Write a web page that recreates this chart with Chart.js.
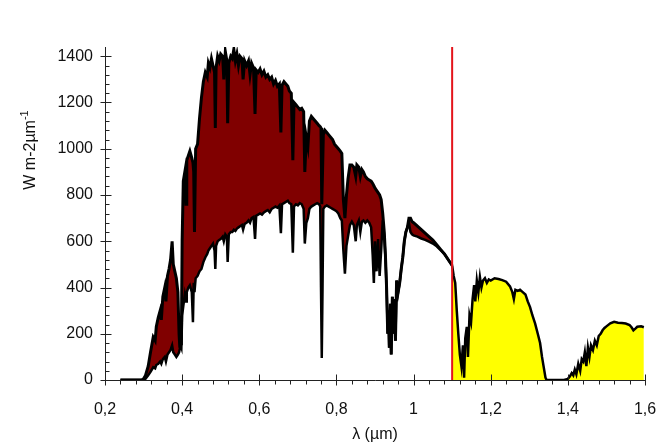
<!DOCTYPE html>
<html>
<head>
<meta charset="utf-8">
<script src="https://cdn.jsdelivr.net/npm/chart.js@4/dist/chart.umd.min.js"></script>
<style>
  html, body { margin: 0; padding: 0; background: #fff; }
</style>
</head>
<body>
<canvas id="spectre" width="657" height="447"></canvas>
<script>
// longueurs d'onde (µm), partie visible / proche IR jusqu'a la coupure
const wl = [0.24, 0.295, 0.300, 0.305, 0.312, 0.318, 0.325, 0.330, 0.333, 0.338, 0.343, 0.346, 0.350, 0.355, 0.358,
  0.362, 0.366, 0.370, 0.374, 0.377, 0.381, 0.385, 0.389, 0.392, 0.394, 0.396, 0.398, 0.400, 0.403, 0.407,
  0.410, 0.412, 0.416, 0.420, 0.425, 0.428, 0.430, 0.432, 0.435, 0.440, 0.445, 0.450, 0.455, 0.460, 0.465,
  0.468, 0.472, 0.476, 0.480, 0.484, 0.486, 0.488, 0.492, 0.496, 0.500, 0.505, 0.508, 0.512, 0.516, 0.518,
  0.521, 0.526, 0.530, 0.534, 0.538, 0.542, 0.546, 0.550, 0.555, 0.558, 0.562, 0.567, 0.572, 0.576, 0.580,
  0.585, 0.589, 0.592, 0.597, 0.602, 0.607, 0.612, 0.617, 0.622, 0.627, 0.632, 0.637, 0.642, 0.647, 0.652,
  0.656, 0.659, 0.664, 0.669, 0.674, 0.678, 0.683, 0.687, 0.690, 0.695, 0.700, 0.705, 0.710, 0.715, 0.718,
  0.722, 0.726, 0.730, 0.735, 0.740, 0.745, 0.750, 0.755, 0.758, 0.760, 0.762, 0.764, 0.766, 0.770, 0.775,
  0.780, 0.785, 0.790, 0.795, 0.800, 0.805, 0.810, 0.814, 0.818, 0.822, 0.826, 0.830, 0.835, 0.840, 0.845,
  0.850, 0.853, 0.858, 0.862, 0.866, 0.870, 0.875, 0.880, 0.885, 0.890, 0.894, 0.897, 0.900, 0.904, 0.908,
  0.912, 0.916, 0.920, 0.924, 0.927, 0.930, 0.933, 0.935, 0.937, 0.940, 0.942, 0.945, 0.948, 0.951, 0.953,
  0.956, 0.960, 0.964, 0.968, 0.972, 0.976, 0.980, 0.984, 0.988, 0.992, 0.996, 1.000, 1.010, 1.020, 1.030,
  1.040, 1.050, 1.060, 1.070, 1.080, 1.090, 1.100];
// eclairement hors atmosphere (W m-2 µm-1)
const toa = [0, 0, 5, 20, 60, 120, 185, 170, 230, 270, 300, 260, 360, 400, 340,
  450, 480, 520, 600, 500, 470, 440, 380, 200, 140, 250, 150, 600, 860, 900,
  760, 950, 970, 990, 960, 940, 900, 640, 1000, 1020, 1130, 1220, 1290, 1330, 1310,
  1370, 1350, 1390, 1360, 1330, 1090, 1350, 1400, 1380, 1410, 1400, 1300, 1420, 1380, 1110,
  1370, 1400, 1390, 1430, 1380, 1410, 1360, 1400, 1390, 1300, 1380, 1360, 1380, 1320, 1370,
  1350, 1150, 1340, 1330, 1345, 1320, 1335, 1310, 1320, 1300, 1310, 1280, 1295, 1270, 1280,
  1070, 1275, 1290, 1280, 1270, 1250, 1240, 950, 1200, 1190, 1180, 1170, 1175, 1160, 900,
  1050, 1010, 1120, 1140, 1130, 1120, 1110, 1100, 1095, 1090, 760, 900, 1060, 1080, 1070,
  1060, 1050, 1040, 1020, 1010, 1000, 990, 980, 780, 700, 800, 870, 930, 930, 920,
  880, 930, 920, 880, 910, 900, 880, 870, 865, 860, 850, 840, 830, 820, 810,
  800, 780, 720, 640, 540, 400, 200, 300, 140, 330, 110, 360, 200, 350, 170,
  430, 380, 420, 480, 530, 600, 640, 660, 700, 700, 685, 680, 665, 650, 635,
  620, 605, 585, 565, 545, 520, 495];
// eclairement au sol
const sfc = [0, 0, 0, 5, 20, 35, 55, 50, 65, 70, 80, 70, 90, 100, 80,
  110, 120, 130, 150, 120, 110, 100, 110, 120, 120, 150, 140, 280, 320, 370,
  340, 380, 400, 410, 380, 250, 420, 380, 440, 450, 470, 480, 510, 530, 545,
  560, 570, 580, 590, 560, 480, 580, 600, 605, 610, 620, 600, 630, 620, 510,
  630, 640, 640, 650, 645, 655, 660, 665, 670, 650, 675, 680, 690, 680, 700,
  705, 610, 710, 715, 720, 715, 725, 730, 735, 725, 740, 745, 750, 745, 755,
  635, 760, 765, 770, 775, 765, 760, 550, 750, 760, 755, 765, 760, 740, 590,
  680, 700, 740, 750, 755, 760, 765, 760, 750, 400, 95, 400, 740, 750, 755,
  750, 745, 740, 735, 730, 720, 700, 690, 560, 460, 580, 620, 670, 685, 670,
  600, 670, 690, 640, 685, 690, 680, 690, 680, 660, 540, 420, 600, 470, 610,
  450, 560, 690, 620, 530, 400, 200, 300, 140, 330, 110, 360, 200, 350, 170,
  430, 380, 420, 480, 530, 600, 640, 660, 680, 640, 630, 625, 620, 612, 606,
  598, 590, 578, 562, 545, 520, 495];
// au-dela de la coupure (bandes d'absorption de l'eau)
const wlIR = [1.100, 1.104, 1.108, 1.112, 1.116, 1.120, 1.124, 1.128, 1.131, 1.134, 1.138, 1.141, 1.145, 1.149, 1.153,
  1.157, 1.160, 1.164, 1.168, 1.172, 1.176, 1.180, 1.185, 1.190, 1.195, 1.200, 1.210, 1.220, 1.230, 1.240,
  1.250, 1.256, 1.260, 1.264, 1.270, 1.276, 1.283, 1.290, 1.296, 1.302, 1.308, 1.315, 1.322, 1.328, 1.333,
  1.337, 1.342, 1.345, 1.390, 1.400, 1.405, 1.410, 1.414, 1.418, 1.422, 1.427, 1.432, 1.436, 1.440, 1.444,
  1.448, 1.452, 1.456, 1.460, 1.465, 1.470, 1.475, 1.480, 1.485, 1.490, 1.495, 1.500, 1.510, 1.520, 1.530,
  1.540, 1.550, 1.560, 1.565, 1.570, 1.575, 1.580, 1.590, 1.597];
const sfcIR = [495, 450, 420, 300, 200, 110, 60, 150, 10, 180, 230, 100, 280, 250, 350,
  410, 340, 430, 380, 445, 400, 430, 440, 420, 435, 430, 440, 437, 432, 425,
  405, 380, 350, 390, 385, 390, 380, 370, 340, 315, 280, 245, 200, 160, 100,
  60, 10, 0, 0, 5, 15, 30, 20, 45, 25, 70, 40, 90, 80, 120,
  60, 140, 100, 150, 130, 170, 150, 190, 200, 215, 225, 232, 245, 252, 248,
  246, 244, 238, 228, 215, 222, 230, 232, 228];
const cutoff = [1.1];
const xTicks = [0.2, 0.4, 0.6, 0.8, 1.0, 1.2, 1.4, 1.6];
const yTicks = [0, 200, 400, 600, 800, 1000, 1200, 1400];
const yMax = 1440;

const pts = (xs, ys) => xs.map((v, i) => ({ x: v, y: ys[i] }));
const police = 'Liberation Sans, Arial, sans-serif';

// traits d'axes avec graduations secondaires + titre vertical avec exposant
const axesTrait = {
  id: 'axesTrait',
  afterDraw(chart) {
    const { ctx, scales: { x, y } } = chart;
    const x0 = Math.round(x.getPixelForValue(xTicks[0])) + 0.5;
    const y0 = Math.round(y.getPixelForValue(0)) + 0.5;
    ctx.save();
    ctx.strokeStyle = '#222';
    ctx.lineWidth = 1;
    ctx.beginPath();
    ctx.moveTo(x0, y.top);
    ctx.lineTo(x0, y0);
    ctx.lineTo(x.right, y0);
    for (let v = 0; v <= 1400; v += 40) {
      const p = Math.round(y.getPixelForValue(v)) + 0.5;
      if (v % 200 === 0) { ctx.moveTo(x0 - 5, p); ctx.lineTo(x0 + 6, p); }
      else { ctx.moveTo(x0, p); ctx.lineTo(x0 + 4, p); }
    }
    for (let k = 0; k <= 35; k++) {
      const p = Math.round(x.getPixelForValue(0.2 + k * 0.04)) + 0.5;
      if (k % 5 === 0) { ctx.moveTo(p, y0 - 6); ctx.lineTo(p, y0 + 5); }
      else { ctx.moveTo(p, y0); ctx.lineTo(p, y0 + 4); }
    }
    ctx.stroke();

    ctx.translate(31, 150);
    ctx.rotate(-Math.PI / 2);
    ctx.fillStyle = '#111';
    ctx.textBaseline = 'middle';
    const base = 'W m-2\u00b5m';
    ctx.font = '16px ' + police;
    const wBase = ctx.measureText(base).width;
    ctx.font = '11px ' + police;
    const wSup = ctx.measureText('-1').width;
    const start = -(wBase + wSup) / 2;
    ctx.font = '16px ' + police;
    ctx.fillText(base, start, 0);
    ctx.font = '11px ' + police;
    ctx.fillText('-1', start + wBase, -6);
    ctx.restore();
  }
};

new Chart(document.getElementById('spectre'), {
  type: 'line',
  data: {
    datasets: [
      {
        label: 'coupure',
        data: [{ x: cutoff[0], y: 0 }, { x: cutoff[0], y: yMax }],
        borderColor: '#e4141b',
        borderWidth: 2,
        pointRadius: 0,
        fill: false
      },
      {
        label: 'hors atmosphere',
        data: pts(wl, toa),
        borderColor: '#000',
        borderWidth: 3,
        pointRadius: 0,
        backgroundColor: '#800000',
        fill: { target: 2 }
      },
      {
        label: 'sol',
        data: pts(wl, sfc),
        borderColor: '#000',
        borderWidth: 2.5,
        pointRadius: 0,
        fill: false
      },
      {
        label: 'sol IR',
        data: pts(wlIR, sfcIR),
        borderColor: '#000',
        borderWidth: 2.5,
        pointRadius: 0,
        backgroundColor: '#ffff00',
        fill: 'origin'
      }
    ]
  },
  options: {
    responsive: false,
    animation: false,
    layout: { padding: { top: 47, right: 0, left: 0, bottom: 0 } },
    plugins: {
      legend: { display: false },
      tooltip: { enabled: false },
      filler: { drawTime: 'beforeDatasetsDraw' }
    },
    scales: {
      x: {
        type: 'linear',
        min: 0.2,
        max: 1.6,
        grid: { display: false, drawTicks: false },
        border: { display: false },
        afterBuildTicks: (s) => { s.ticks = xTicks.map(v => ({ value: v })); },
        afterFit: (s) => { s.height = 67; s.paddingRight = 12; s.paddingLeft = 0; },
        ticks: {
          padding: 20,
          maxRotation: 0,
          color: '#111',
          font: { family: police, size: 16 },
          callback: (v) => String(Math.round(v * 10) / 10).replace('.', ',')
        },
        title: {
          display: true,
          text: '\u03bb (\u00b5m)',
          color: '#111',
          font: { family: police, size: 16 },
          padding: { top: 0, bottom: 3 }
        }
      },
      y: {
        min: 0,
        max: yMax,
        grid: { display: false, drawTicks: false },
        border: { display: false },
        afterBuildTicks: (s) => { s.ticks = yTicks.map(v => ({ value: v })); },
        afterFit: (s) => { s.width = 105; },
        ticks: {
          padding: 12,
          color: '#111',
          font: { family: police, size: 16 },
          callback: (v) => String(v)
        }
      }
    }
  },
  plugins: [axesTrait]
});
</script>
</body>
</html>
